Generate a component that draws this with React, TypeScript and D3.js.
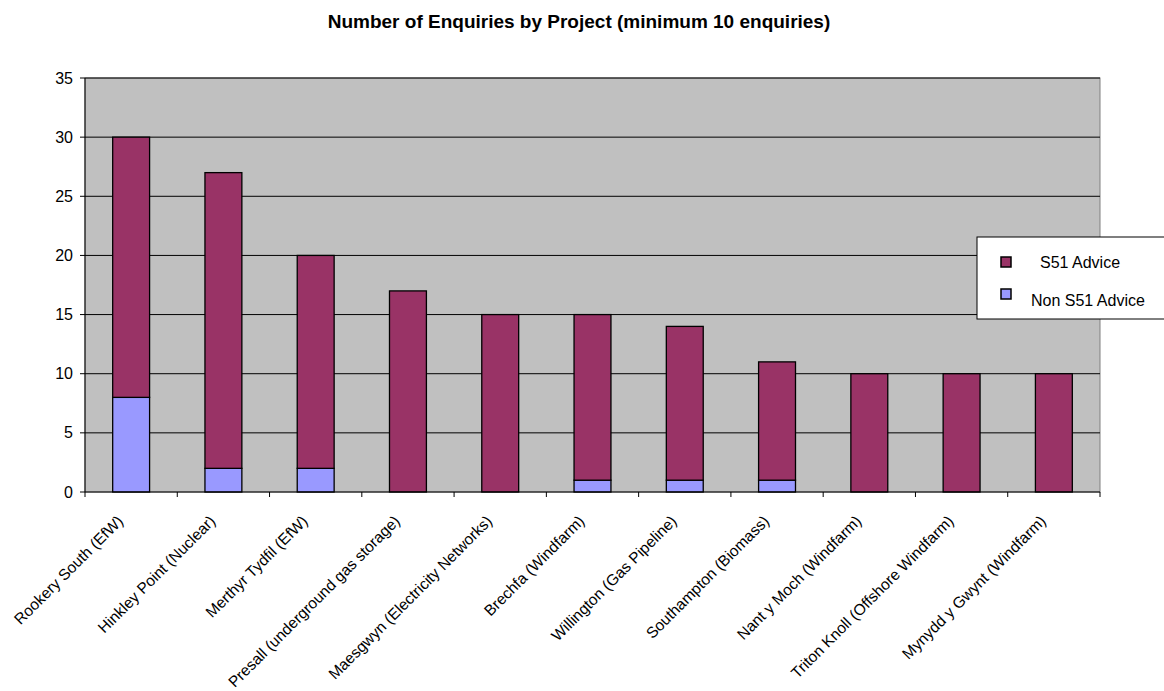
import React from "react";
import * as d3 from "d3";

const categories = [
  "Rookery South (EfW)",
  "Hinkley Point (Nuclear)",
  "Merthyr Tydfil (EfW)",
  "Presall (underground gas storage)",
  "Maesgwyn (Electricity Networks)",
  "Brechfa (Windfarm)",
  "Willington (Gas Pipeline)",
  "Southampton (Biomass)",
  "Nant y Moch (Windfarm)",
  "Triton Knoll (Offshore Windfarm)",
  "Mynydd y Gwynt (Windfarm)",
];
const nonS51 = [8, 2, 2, 0, 0, 1, 1, 1, 0, 0, 0];
const s51 = [22, 25, 18, 17, 15, 14, 13, 10, 10, 10, 10];
const yTicks = [0, 5, 10, 15, 20, 25, 30, 35];
const seriesNames = ["S51 Advice", "Non S51 Advice"];
const colors = { s51: "#993366", non: "#9999FF" };

const W = 1164;
const H = 691;
const plot = { left: 85, right: 1100, top: 78, bottom: 492 };
const FONT = "'Liberation Sans', Arial, sans-serif";

export default function App() {
  const x = d3.scaleBand<string>().domain(categories).range([plot.left, plot.right]).padding(0);
  const y = d3.scaleLinear().domain([0, 35]).range([plot.bottom, plot.top]);
  const bw = x.bandwidth() * 0.4;

  return (
    <svg width={W} height={H} style={{ position: "absolute", left: 0, top: 0, background: "#fff" }} fontFamily={FONT}>
      <text x={579} y={28} textAnchor="middle" fontWeight="bold" fontSize={19}>
        Number of Enquiries by Project (minimum 10 enquiries)
      </text>
      <rect x={plot.left} y={plot.top} width={plot.right - plot.left} height={plot.bottom - plot.top} fill="#C0C0C0" stroke="#808080" strokeWidth={1} />
      {yTicks.map((t) => (
        <g key={t}>
          {t > 0 && <line x1={plot.left} x2={plot.right} y1={y(t)} y2={y(t)} stroke="#000" strokeWidth={1} />}
          <line x1={plot.left - 5} x2={plot.left} y1={y(t)} y2={y(t)} stroke="#000" />
          <text x={plot.left - 12} y={y(t)} dy="0.35em" textAnchor="end" fontSize={16}>{t}</text>
        </g>
      ))}
      {categories.map((c, i) => {
        const cx = x(c)! + x.bandwidth() / 2;
        const x0 = cx - bw / 2;
        return (
          <g key={c}>
            {nonS51[i] > 0 && (
              <rect x={x0} y={y(nonS51[i])} width={bw} height={y(0) - y(nonS51[i])} fill={colors.non} stroke="#000" strokeWidth={1.3} />
            )}
            <rect x={x0} y={y(nonS51[i] + s51[i])} width={bw} height={y(nonS51[i]) - y(nonS51[i] + s51[i])} fill={colors.s51} stroke="#000" strokeWidth={1.3} />
          </g>
        );
      })}
      <line x1={plot.left} x2={plot.left} y1={plot.top} y2={plot.bottom} stroke="#000" />
      <line x1={plot.left} x2={plot.right} y1={plot.bottom} y2={plot.bottom} stroke="#000" />
      {[...categories.map((c) => x(c)!), plot.right].map((tx, i) => (
        <line key={i} x1={tx} x2={tx} y1={plot.bottom} y2={plot.bottom + 5} stroke="#000" />
      ))}
      {categories.map((c) => {
        const cx = x(c)! + x.bandwidth() / 2;
        return (
          <text key={c} transform={`translate(${cx - 7},${plot.bottom + 30}) rotate(-45)`} textAnchor="end" fontSize={15.5}>
            {c}
          </text>
        );
      })}
      <g>
        <rect x={977} y={237} width={200} height={82} fill="#fff" stroke="#000" />
        <rect x={1001} y={257} width={10} height={10} fill={colors.s51} stroke="#000" strokeWidth={1.5} />
        <text x={1040} y={268} fontSize={16}>{seriesNames[0]}</text>
        <rect x={1001} y={289} width={10} height={10} fill={colors.non} stroke="#000" strokeWidth={1.5} />
        <text x={1031} y={306} fontSize={16}>{seriesNames[1]}</text>
      </g>
    </svg>
  );
}
